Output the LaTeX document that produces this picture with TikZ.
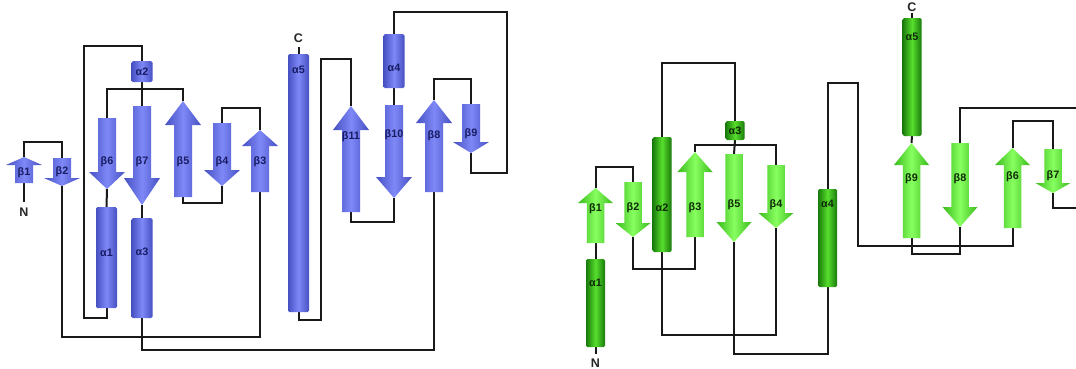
\documentclass[tikz,border=0pt]{standalone}
\usepackage{fontspec}
\setmainfont{Liberation Sans}
\usetikzlibrary{calc}
\pgfdeclarelayer{bg}
\pgfsetlayers{bg,main}

% half-widths of strand bodies, strand heads and helix cylinders
\newcommand\bodyw{9}
\newcommand\headw{18}
\newcommand\helw{10.5}

% strand pointing up: name, x, tip y, head-base y, bottom y, label, label y, fill style
\newcommand\strandup[8]{%
  \path[#8] (#2-\bodyw,#5) -- (#2-\bodyw,#4) -- (#2-\headw,#4) -- (#2,#3)
        -- (#2+\headw,#4) -- (#2+\bodyw,#4) -- (#2+\bodyw,#5) -- cycle;
  \coordinate (#1-t) at (#2,#3);
  \coordinate (#1-b) at (#2,#5);
  \node[lab] (#1) at (#2,#7) {#6};
}
% strand pointing down: name, x, top y, head-base y, tip y, label, label y, fill style
\newcommand\stranddown[8]{%
  \path[#8] (#2-\bodyw,#3) -- (#2-\bodyw,#4) -- (#2-\headw,#4) -- (#2,#5)
        -- (#2+\headw,#4) -- (#2+\bodyw,#4) -- (#2+\bodyw,#3) -- cycle;
  \coordinate (#1-t) at (#2,#3);
  \coordinate (#1-b) at (#2,#5);
  \node[lab] (#1) at (#2,#7) {#6};
}
% helix cylinder: name, x, top y, bottom y, label, label y, fill style
\newcommand\helix[7]{%
  \path[#7, rounded corners=1.5pt] (#2-\helw,#3) rectangle (#2+\helw,#4);
  \coordinate (#1-t) at (#2,#3);
  \coordinate (#1-b) at (#2,#4);
  \node[lab] (#1) at (#2,#6) {#5};
}
% connector that leaves one end, runs to height #3 and enters the other end
\newcommand\loopc[3]{\draw (#1) -- (#1 |- 0,#3) -| (#2);}

\definecolor{blueedge}{RGB}{70,80,194}
\definecolor{bluemid}{RGB}{126,136,246}
\definecolor{bluetext}{RGB}{24,28,100}
\definecolor{strandedge}{RGB}{58,186,28}
\definecolor{strandmid}{RGB}{136,255,96}
\definecolor{helixedge}{RGB}{24,122,10}
\definecolor{helixmid}{RGB}{88,222,46}
\definecolor{greentext}{RGB}{14,42,6}

\begin{document}
\begin{tikzpicture}[x=1pt,y=-1pt,
  link/.style={line width=2pt,black!90},
  endlab/.style={font=\bfseries\fontsize{12.5}{13}\selectfont, inner sep=0pt, text=black!85},
  bluefill/.style={left color=blueedge,right color=blueedge,middle color=bluemid},
  strandfill/.style={left color=strandedge,right color=strandedge,middle color=strandmid},
  helixfill/.style={left color=helixedge,right color=helixedge,middle color=helixmid}]
\begin{pgfonlayer}{bg}
\fill[white] (0,0) rectangle (1076,368);
\end{pgfonlayer}
\useasboundingbox (0,0) rectangle (1076,368);

% ---------------- blue topology ----------------
\begin{scope}[lab/.style={font=\bfseries\fontsize{10.8}{12}\selectfont, inner sep=0pt, text=bluetext}]
\strandup{Bb1}{24}{157}{165}{183}{β1}{173}{bluefill}
\stranddown{Bb2}{62}{158}{178}{186}{β2}{172}{bluefill}
\strandup{Bb3}{260}{130}{146}{192}{β3}{162}{bluefill}
\stranddown{Bb4}{222}{123}{170}{186}{β4}{162}{bluefill}
\strandup{Bb5}{183}{101}{125}{197}{β5}{162}{bluefill}
\stranddown{Bb6}{107}{118}{172}{189}{β6}{162}{bluefill}
\stranddown{Bb7}{142}{106}{178}{205}{β7}{162}{bluefill}
\strandup{Bb8}{434}{100}{123}{192}{β8}{136}{bluefill}
\stranddown{Bb9}{471}{104}{142}{153}{β9}{134}{bluefill}
\stranddown{Bb10}{394}{105}{177}{198}{β10}{135}{bluefill}
\strandup{Bb11}{351}{106}{130}{212}{β11}{137}{bluefill}
\helix{Ba1}{106.5}{207}{308}{α1}{253}{bluefill}
\helix{Ba2}{142}{61}{82}{α2}{72}{bluefill}
\helix{Ba3}{142}{218}{318}{α3}{252}{bluefill}
\helix{Ba4}{394}{34}{88}{α4}{68}{bluefill}
\helix{Ba5}{298.5}{54}{312}{α5}{70}{bluefill}
\node[endlab, outer sep=6pt] (BN) at (24,212) {N};
\node[endlab, outer sep=5pt] (BC) at (298.5,38) {C};
\end{scope}

\begin{pgfonlayer}{bg}
\begin{scope}[link]
\draw (Bb1-b) -- (BN);
\loopc{Bb1-t}{Bb2-t}{142}
\loopc{Bb2-b}{Bb3-b}{337}
\loopc{Bb3-t}{Bb4-t}{108}
\loopc{Bb4-b}{Bb5-b}{203}
\loopc{Bb5-t}{Bb6-t}{89}
\draw (Bb6-b) -- (Ba1-t);
\draw (Ba1-b) |- (84,318) -- (84,46) -| (Ba2-t);
\draw (Ba2-b) -- (Bb7-t);
\draw (Bb7-b) -- (Ba3-t);
\loopc{Ba3-b}{Bb8-b}{350}
\loopc{Bb8-t}{Bb9-t}{79}
\draw (Bb9-b) |- (507,173) -- (507,12) -| (Ba4-t);
\draw (Ba4-b) -- (Bb10-t);
\loopc{Bb10-b}{Bb11-b}{222}
\draw (Bb11-t) |- (321,59) -- (321,320) -| (Ba5-b);
\draw (Ba5-t) -- (BC);
\end{scope}
\end{pgfonlayer}

% ---------------- green topology ----------------
\begin{scope}[lab/.style={font=\bfseries\fontsize{10.8}{12}\selectfont, inner sep=0pt, text=greentext}]
\renewcommand\bodyw{8.75}
\renewcommand\headw{17.5}
\renewcommand\helw{9.5}
\strandup{Gb1}{595.5}{188}{203}{243}{β1}{209}{strandfill}
\stranddown{Gb2}{633}{182}{223}{237}{β2}{208}{strandfill}
\strandup{Gb3}{695}{152}{172}{237}{β3}{208}{strandfill}
\stranddown{Gb4}{776}{165}{213}{228}{β4}{205}{strandfill}
\stranddown{Gb5}{734}{154}{222}{242}{β5}{205}{strandfill}
\strandup{Gb6}{1012.5}{148}{165}{228}{β6}{177}{strandfill}
\stranddown{Gb7}{1053}{149}{183}{193}{β7}{176}{strandfill}
\stranddown{Gb8}{960}{143}{207}{227}{β8}{179}{strandfill}
\strandup{Gb9}{911.5}{143}{165}{238}{β9}{179}{strandfill}
\helix{Ga1}{595.5}{259}{347}{α1}{283}{helixfill}
\helix{Ga2}{662}{137}{252}{α2}{208}{helixfill}
\helix{Ga3}{735}{121}{140}{α3}{130.5}{helixfill}
\helix{Ga4}{827.5}{189}{287}{α4}{204}{helixfill}
\helix{Ga5}{912}{18}{136}{α5}{37}{helixfill}
\node[endlab, outer sep=5pt] (GN) at (595.5,363) {N};
\node[endlab, outer sep=2pt] (GC) at (912,7) {C};
\coordinate (Gr1) at (1076,208);
\coordinate (Gr2) at (1076,108);
\end{scope}

\begin{pgfonlayer}{bg}
\begin{scope}[link]
\draw (Ga1-b) -- (GN);
\draw (Ga1-t) -- (Gb1-b);
\loopc{Gb1-t}{Gb2-t}{167}
\loopc{Gb2-b}{Gb3-b}{269}
\loopc{Gb3-t}{Gb4-t}{145}
\loopc{Gb4-b}{Ga2-b}{335}
\loopc{Ga2-t}{Ga3-t}{63}
\draw (Ga3-b) -- (Gb5-t);
\loopc{Gb5-b}{Ga4-b}{354}
\draw (Ga4-t) |- (858,83) -- (858,246) -| (Gb6-b);
\loopc{Gb6-t}{Gb7-t}{121}
\draw (Gb7-b) |- (Gr1);
\draw (Gb8-t) |- (Gr2);
\loopc{Gb8-b}{Gb9-b}{254}
\draw (Gb9-t) -- (Ga5-b);
\draw (Ga5-t) -- (GC);
\end{scope}
\end{pgfonlayer}
\end{tikzpicture}
\end{document}
